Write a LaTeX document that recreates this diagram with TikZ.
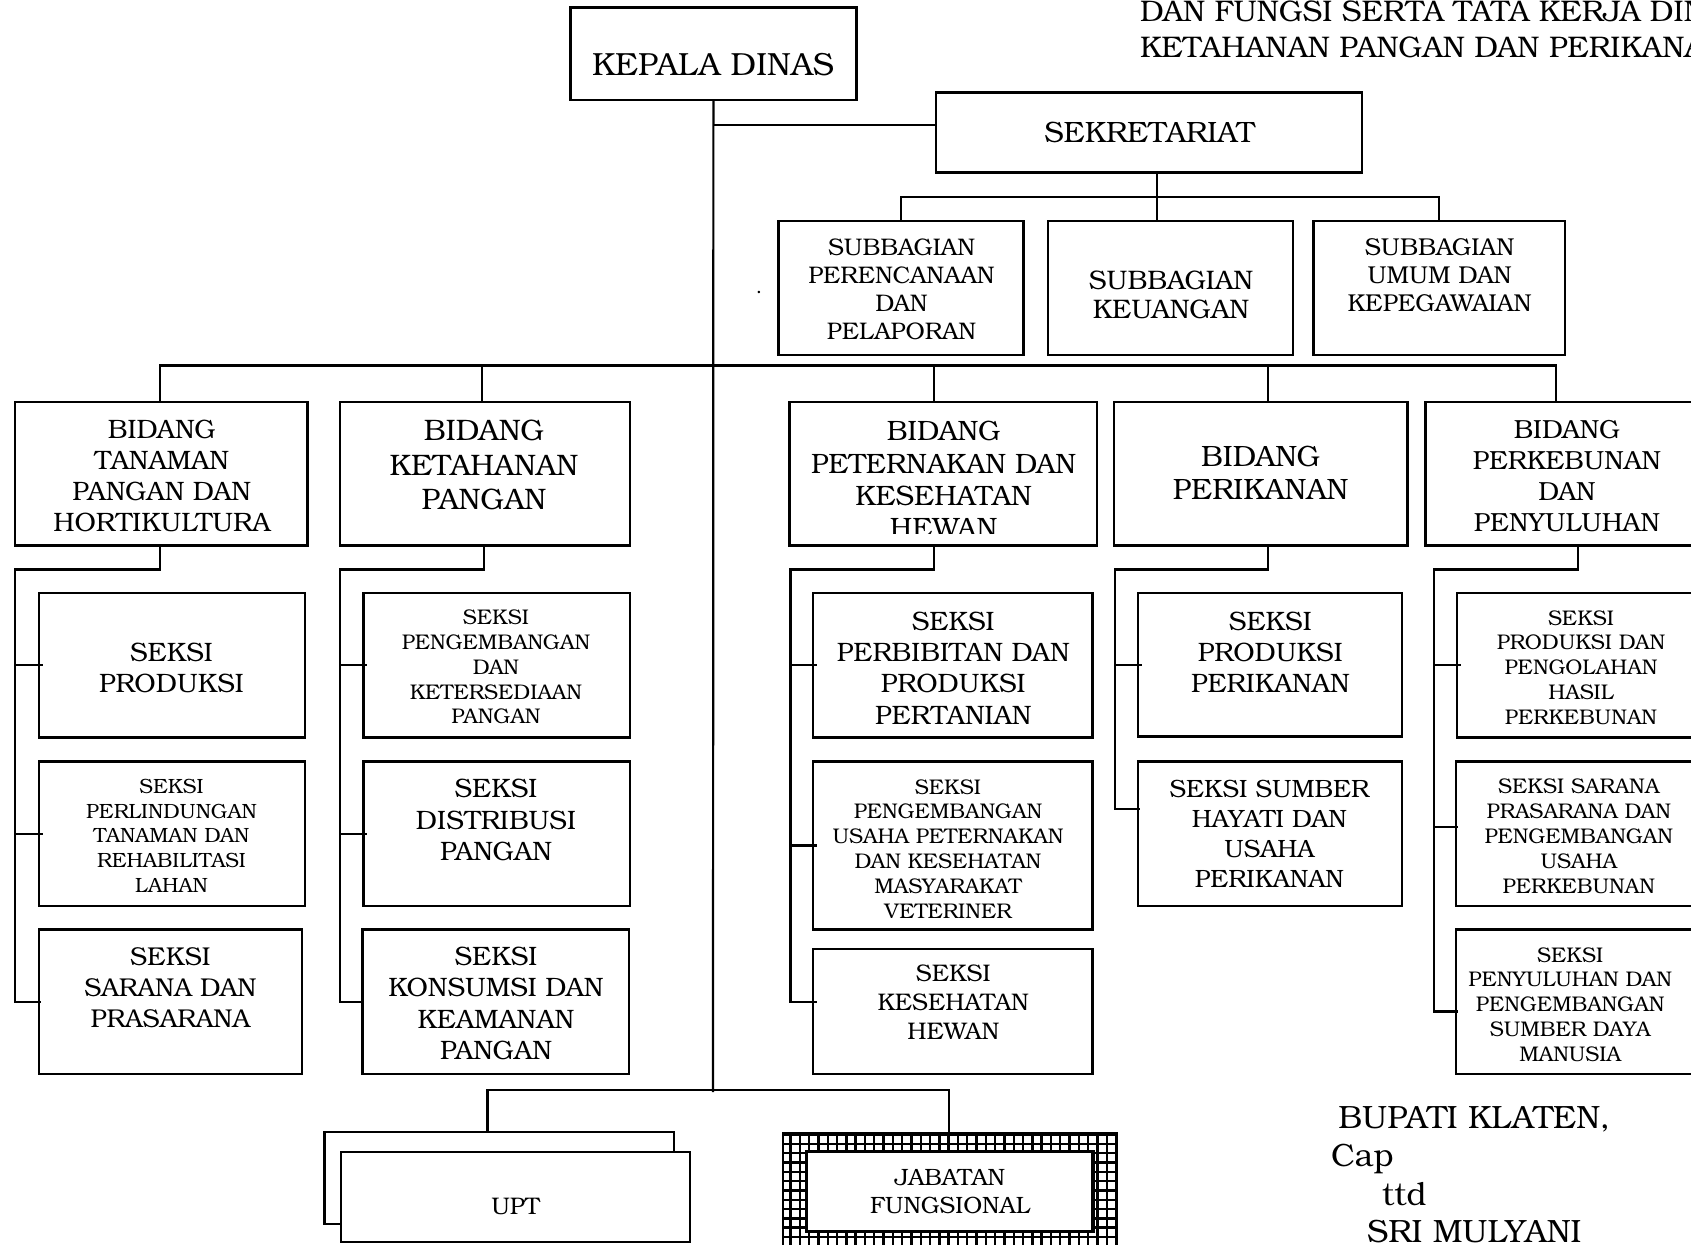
\documentclass[tikz,border=0pt]{standalone}
\usepackage{fontspec}
\setmainfont{TeX Gyre Bonum}
\newcommand\orgbox[6]{%
 \pgfmathsetmacro\obw{(#4-#2)*0.5}%
 \pgfmathsetmacro\obh{(#5-#3)*0.5}%
 \pgfmathsetmacro\obx{(#2+#4)/2}%
 \pgfmathsetmacro\oby{(#3+#5)/2}%
 \node[boxst,minimum width=\obw pt,minimum height=\obh pt,#6] (#1) at (\obx,\oby) {};}
\begin{document}
\begin{tikzpicture}[x=0.5pt,y=-0.5pt,
 boxst/.style={draw,line width=1.2pt,inner sep=0pt,outer sep=0pt},
 conn/.style={line width=1.1pt},
 txt/.style={align=center,inner sep=0pt},
 fKep/.style={font=\fontsize{16}{19}\selectfont},
 fSek/.style={font=\fontsize{14.7}{18}\selectfont},
 fH/.style={font=\fontsize{14.9}{18}\selectfont},
 fBup/.style={font=\fontsize{16.1}{19}\selectfont},
 fB/.style={font=\fontsize{13.3}{15.6}\selectfont},
 fBb/.style={font=\fontsize{14.8}{17.25}\selectfont},
 fBc/.style={font=\fontsize{14}{16.2}\selectfont},
 fBd/.style={font=\fontsize{14.7}{16.7}\selectfont},
 fBe/.style={font=\fontsize{13.1}{15.6}\selectfont},
 fS/.style={font=\fontsize{13.3}{15.6}\selectfont},
 fSa/.style={font=\fontsize{12.9}{15.6}\selectfont},
 fSc/.style={font=\fontsize{12}{14.6}\selectfont},
 fSd/.style={font=\fontsize{12.5}{15}\selectfont},
 fSs/.style={font=\fontsize{10.6}{12.4}\selectfont},
 fSt/.style={font=\fontsize{10.3}{12.4}\selectfont},
 fSP/.style={font=\fontsize{12}{14}\selectfont},
 fSU/.style={font=\fontsize{12.2}{14}\selectfont},
 fSK/.style={font=\fontsize{13.4}{14.6}\selectfont},
 fU/.style={font=\fontsize{12}{14}\selectfont},
 fJ/.style={font=\fontsize{11.8}{14}\selectfont}]
\useasboundingbox (0,0) rectangle (1691,1245);
\fill[white] (0,0) rectangle (1691,1245);
\clip (0,0) rectangle (1691,1245);

% header text
\node[anchor=base west,fH,inner sep=0pt] (hd1) at (1139.6,22) {DAN FUNGSI SERTA TATA KERJA DINAS};
\node[anchor=base west,fH,inner sep=0pt] (hd2) at (1139.6,57.5) {KETAHANAN PANGAN DAN PERIKANAN};

% boxes
\orgbox{kepala}{570.5}{7.5}{856.3}{100.3}{}
\orgbox{sek}{936}{92.7}{1362}{172.5}{}
\orgbox{sp}{778.6}{221}{1023.4}{354.8}{}
\orgbox{sk}{1048.2}{221}{1293}{354.8}{}
\orgbox{su}{1313.5}{221}{1564.8}{354.8}{}
\orgbox{b1}{15.1}{402.2}{307.3}{545.7}{}
\orgbox{b2}{339.7}{402.2}{629.8}{545.7}{}
\orgbox{b3}{789.4}{402.2}{1096.7}{545.7}{}
\orgbox{b4}{1114}{402.2}{1407.3}{545.7}{}
\orgbox{b5}{1425.6}{402.2}{1720}{545.7}{}
\orgbox{c1r1}{38.8}{593}{305.2}{737.6}{}
\orgbox{c1r2}{38.8}{761.3}{305.2}{905.9}{}
\orgbox{c1r3}{38.8}{929.6}{302}{1074.1}{}
\orgbox{c2r1}{363.4}{593}{629.8}{737.6}{}
\orgbox{c2r2}{363.4}{761.3}{629.8}{905.9}{}
\orgbox{c2r3}{362.3}{929.6}{628.7}{1074.1}{}
\orgbox{c3r1}{813}{593}{1092.3}{737.6}{}
\orgbox{c3r2}{813}{761.3}{1092.3}{929.6}{}
\orgbox{c3r3}{813}{949}{1092.3}{1074.1}{}
\orgbox{c4r1}{1137.7}{593}{1402}{736.5}{}
\orgbox{c4r2}{1137.7}{761.3}{1402}{905.9}{}
\orgbox{c5r1}{1457}{593}{1720}{737.6}{}
\orgbox{c5r2}{1456}{761.3}{1720}{905.9}{}
\orgbox{c5r3}{1456}{929.6}{1720}{1074.1}{}
\orgbox{uptb}{324.6}{1132}{674}{1224}{}
\orgbox{upt}{340.7}{1151.7}{690}{1242}{fill=white}
\orgbox{jfo}{782.7}{1132.7}{1117}{1262}{}
\begin{scope}
\clip (jfo.north west) rectangle (jfo.south east);
\draw[line width=1.2pt,step=4.65pt] (jfo.south west) grid (jfo.north east);
\end{scope}
\draw[line width=1.2pt] (jfo.north west) rectangle (jfo.south east);
\orgbox{jf}{806.7}{1151.7}{1093}{1231.7}{fill=white,line width=1.6pt}

% texts
\node[txt,fKep] (kepala-t) at (713,64.7) {KEPALA DINAS};
\node[txt,fSek] (sek-t) at (1149.6,132.6) {SEKRETARIAT};
\node[txt,fSP] (sp-t) at (901.5,289) {SUBBAGIAN\\PERENCANAAN\\DAN\\PELAPORAN};
\node[txt,fSK] (sk-t) at (1171,295) {SUBBAGIAN\\KEUANGAN};
\node[txt,fSU] (su-t) at (1439.6,275) {SUBBAGIAN\\UMUM DAN\\KEPEGAWAIAN};
\node[anchor=base,inner sep=0pt,font=\fontsize{10}{12}\selectfont] (dot) at (759,294) {.};
\node[txt,fB] (b1-t) at (161.8,476) {BIDANG\\TANAMAN\\PANGAN DAN\\HORTIKULTURA};
\node[txt,fBb] (b2-t) at (484,465.3) {BIDANG\\KETAHANAN\\PANGAN};
\begin{scope}
\clip (789.4,402.2) rectangle (1096.7,533.5);
\node[txt,fBc] (b3-t) at (943.6,479.5) {BIDANG\\PETERNAKAN DAN\\KESEHATAN\\HEWAN};
\end{scope}
\node[txt,fBd] (b4-t) at (1260.6,472.9) {BIDANG\\PERIKANAN};
\node[txt,fBe] (b5-t) at (1566.9,476) {BIDANG\\PERKEBUNAN\\DAN\\PENYULUHAN};
\node[txt,fS] (c1r1-t) at (171.5,668) {SEKSI\\PRODUKSI};
\node[txt,fSt] (c1r2-t) at (171.5,835.8) {SEKSI\\PERLINDUNGAN\\TANAMAN DAN\\REHABILITASI\\LAHAN};
\node[txt,fSa] (c1r3-t) at (170.4,987.8) {SEKSI\\SARANA DAN\\PRASARANA};
\node[txt,fSs] (c2r1-t) at (496,667) {SEKSI\\PENGEMBANGAN\\DAN\\KETERSEDIAAN\\PANGAN};
\node[txt,fS] (c2r2-t) at (496,820) {SEKSI\\DISTRIBUSI\\PANGAN};
\node[txt,fS] (c2r3-t) at (496,1003.5) {SEKSI\\KONSUMSI DAN\\KEAMANAN\\PANGAN};
\node[txt,fS] (c3r1-t) at (953.3,668) {SEKSI\\PERBIBITAN DAN\\PRODUKSI\\PERTANIAN};
\node[txt,fSs] (c3r2-t) at (948,848.7) {SEKSI\\PENGEMBANGAN\\USAHA PETERNAKAN\\DAN KESEHATAN\\MASYARAKAT\\VETERINER};
\node[txt,fSc] (c3r3-t) at (953.3,1002.4) {SEKSI\\KESEHATAN\\HEWAN};
\node[txt,fS] (c4r1-t) at (1270.4,652.4) {SEKSI\\PRODUKSI\\PERIKANAN};
\node[txt,fSd] (c4r2-t) at (1269.3,833.6) {SEKSI SUMBER\\HAYATI DAN\\USAHA\\PERIKANAN};
\node[txt,fSs] (c5r1-t) at (1581,667.5) {SEKSI\\PRODUKSI DAN\\PENGOLAHAN\\HASIL\\PERKEBUNAN};
\node[txt,fSs] (c5r2-t) at (1578.8,836.3) {SEKSI SARANA\\PRASARANA DAN\\PENGEMBANGAN\\USAHA\\PERKEBUNAN};
\node[txt,fSs] (c5r3-t) at (1570.2,1004.5) {SEKSI\\PENYULUHAN DAN\\PENGEMBANGAN\\SUMBER DAYA\\MANUSIA};
\node[txt,fU] (upt-t) at (515.5,1206.7) {UPT};
\node[txt,fJ] (jf-t) at (950,1191.6) {JABATAN\\FUNGSIONAL};

% signature
\node[anchor=base west,inner sep=0pt,fBup] (bup1) at (1338,1128) {BUPATI KLATEN,};
\node[anchor=base west,inner sep=0pt,fBup] (bup2) at (1330.7,1166.7) {Cap};
\node[anchor=base west,inner sep=0pt,fBup] (bup3) at (1381.7,1205) {ttd};
\node[anchor=base west,inner sep=0pt,fBup] (bup4) at (1366.7,1242) {SRI MULYANI};

% connectors
\coordinate (trunkend) at (713,1092);
\draw[conn] (kepala.south) -- (trunkend);
\coordinate (jsek) at (713,125);
\draw[conn] (jsek) -- (jsek -| sek.west);
\coordinate (sdrop) at (1157,197.3);
\draw[conn] (sdrop |- sek.south) -- (sdrop) -- (sdrop |- sk.north);
\draw[conn] (sp.north) -- (sp.north |- sdrop) -- (su.north |- sdrop) -- (su.north);

\coordinate (bd1) at (159.6,365.6);
\coordinate (bd2) at (482,365.6);
\coordinate (bd3) at (933.9,365.6);
\coordinate (bd4) at (1268.2,365.6);
\coordinate (bd5) at (1556.1,365.6);
\draw[conn] (bd1 |- b1.north) -- (bd1) -- (bd5) -- (bd5 |- b5.north);
\foreach \i in {2,3,4} {\draw[conn] (bd\i) -- (bd\i |- b\i.north);}

\coordinate (ud1) at (159.6,569.4);  \coordinate (ul1) at (15.1,569.4);
\coordinate (ud2) at (484.2,569.4);  \coordinate (ul2) at (339.7,569.4);
\coordinate (ud3) at (933.9,569.4);  \coordinate (ul3) at (790.5,569.4);
\coordinate (ud4) at (1268.2,569.4); \coordinate (ul4) at (1115,569.4);
\coordinate (ud5) at (1577.7,569.4); \coordinate (ul5) at (1434.3,569.4);

\draw[conn] (ud1 |- b1.south) -- (ud1) -- (ul1) -- (ul1 |- c1r3.west) -- ([xshift=1pt]c1r3.west);
\draw[conn] (ul1 |- c1r1.west) -- ([xshift=2pt]c1r1.west);
\draw[conn] (ul1 |- c1r2.west) -- ([xshift=2pt]c1r2.west);

\draw[conn] (ud2 |- b2.south) -- (ud2) -- (ul2) -- (ul2 |- c2r3.west) -- ([xshift=1pt]c2r3.west);
\draw[conn] (ul2 |- c2r1.west) -- ([xshift=2pt]c2r1.west);
\draw[conn] (ul2 |- c2r2.west) -- ([xshift=2pt]c2r2.west);

\coordinate (t33) at ([yshift=4.75pt]c3r3.west);
\draw[conn] (ud3 |- b3.south) -- (ud3) -- (ul3) -- (ul3 |- t33) -- ([xshift=2pt]t33);
\draw[conn] (ul3 |- c3r1.west) -- ([xshift=2pt]c3r1.west);
\draw[conn] (ul3 |- c3r2.west) -- ([xshift=2pt]c3r2.west);

\coordinate (t42) at ([yshift=12.4pt]c4r2.west);
\draw[conn] (ud4 |- b4.south) -- (ud4) -- (ul4) -- (ul4 |- t42) -- ([xshift=1pt]t42);
\draw[conn] (ul4 |- c4r1.west) -- ([xshift=2pt]c4r1.west);

\coordinate (t52) at ([yshift=3.3pt]c5r2.west);
\coordinate (t53) at ([yshift=-4.85pt]c5r3.west);
\draw[conn] (ud5 |- b5.south) -- (ud5) -- (ul5) -- (ul5 |- t53) -- ([xshift=1pt]t53);
\draw[conn] (ul5 |- c5r1.west) -- ([xshift=2pt]c5r1.west);
\draw[conn] (ul5 |- t52) -- ([xshift=1pt]t52);

\coordinate (bbL) at (487.4,1090.3);
\coordinate (bbR) at (949,1090.3);
\draw[conn] (bbL |- uptb.north) -- (bbL) -- (bbR) -- (bbR |- jfo.north);
\end{tikzpicture}
\end{document}
